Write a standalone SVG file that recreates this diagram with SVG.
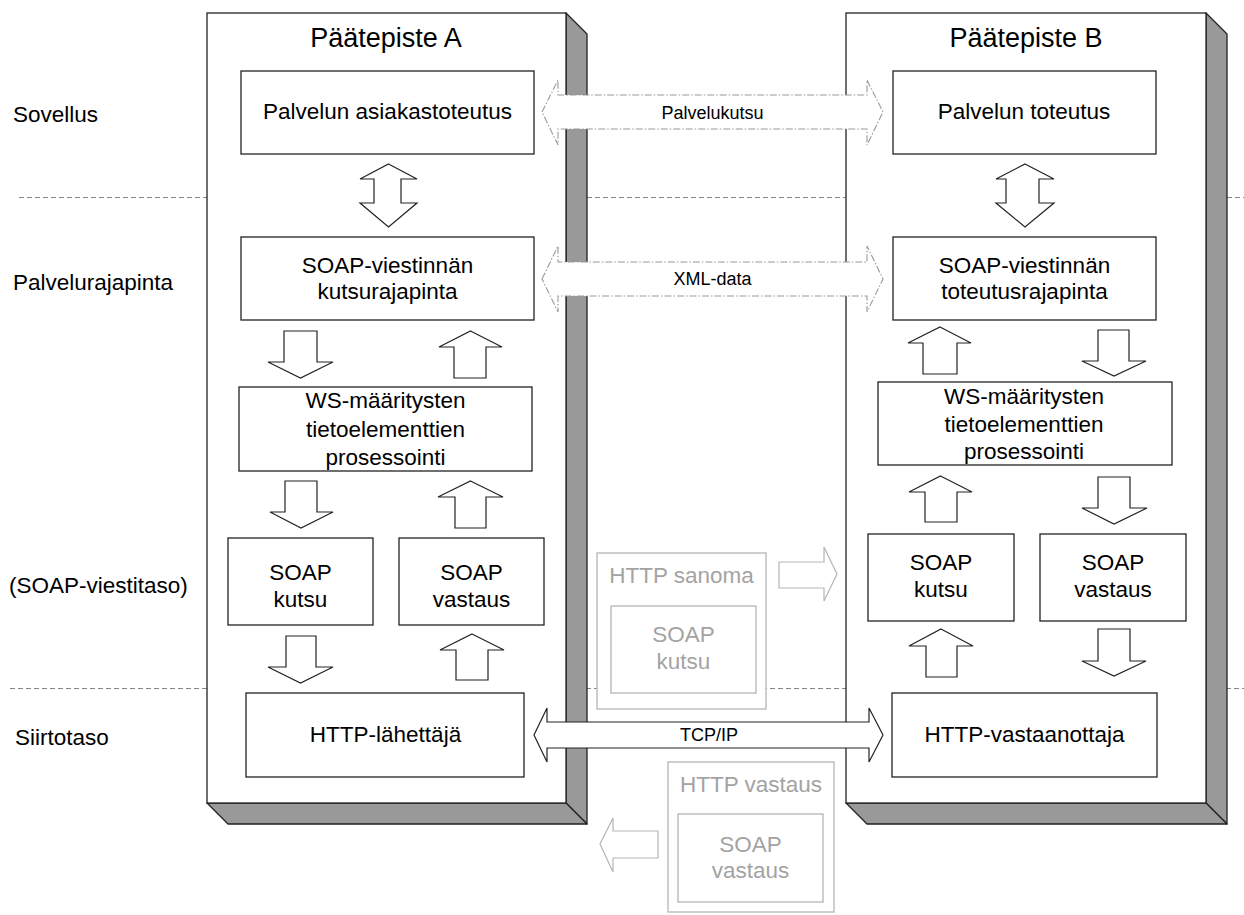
<svg xmlns="http://www.w3.org/2000/svg" width="1244" height="915" viewBox="0 0 1244 915">
<style>
text{font-family:"Liberation Sans",Arial,sans-serif;fill:#000}
.t{font-size:22.5px;text-anchor:middle}
.ttl{font-size:27px;text-anchor:middle}
.lay{font-size:22.5px}
.lbl{font-size:18px;text-anchor:middle}
.g{fill:#a3a3a3}
.box{fill:#fff;stroke:#222;stroke-width:1.3}
.shadow{fill:#999;stroke:#222;stroke-width:1.3;stroke-linejoin:round}
.gbox{fill:#fff;stroke:#b5b5b5;stroke-width:1.3}
.div{stroke:#888;stroke-width:1;stroke-dasharray:5,3;fill:none}
.blk{fill:#fff;stroke:#222;stroke-width:1.2;stroke-linejoin:miter}
.dsh{fill:#fff;stroke:#9a9a9a;stroke-width:1.1;stroke-dasharray:7,2,1.5,2}
.garr{fill:#fff;stroke:#b5b5b5;stroke-width:1.2}
</style>

<g id="dividers">
<line class="div" x1="19" y1="197.5" x2="1244" y2="197.5"/>
<line class="div" x1="10" y1="688.5" x2="1244" y2="688.5"/>
</g>

<g id="layer-labels">
<text class="lay" x="13" y="122">Sovellus</text>
<text class="lay" x="13" y="290">Palvelurajapinta</text>
<text class="lay" x="9" y="593">(SOAP-viestitaso)</text>
<text class="lay" x="15" y="745">Siirtotaso</text>
</g>

<g id="endpoint-a">
<polygon class="shadow" points="566,13 587,34 587,824 566,803"/>
<polygon class="shadow" points="207,803 566,803 587,824 228,824"/>
<rect class="box" x="207" y="13" width="359" height="790"/>
<text class="ttl" x="386" y="47">Päätepiste A</text>
</g>

<g id="endpoint-b">
<polygon class="shadow" points="1206,13 1227,34 1227,824 1206,803"/>
<polygon class="shadow" points="846,803 1206,803 1227,824 867,824"/>
<rect class="box" x="846" y="13" width="360" height="790"/>
<text class="ttl" x="1026" y="47">Päätepiste B</text>
</g>

<g id="a-client">
<rect class="box" x="241" y="71" width="293" height="83"/>
<text class="t" x="387.5" y="119">Palvelun asiakastoteutus</text>
</g>
<g id="a-soap-api">
<rect class="box" x="241" y="237" width="293" height="83"/>
<text class="t" x="387.5" y="273">SOAP-viestinnän</text>
<text class="t" x="387.5" y="299">kutsurajapinta</text>
</g>
<g id="a-ws">
<rect class="box" x="239" y="387" width="293" height="84"/>
<text class="t" x="385.5" y="408">WS-määritysten</text>
<text class="t" x="385.5" y="437">tietoelementtien</text>
<text class="t" x="385.5" y="465">prosessointi</text>
</g>
<g id="a-soap-kutsu">
<rect class="box" x="228" y="538" width="145" height="87"/>
<text class="t" x="300.5" y="580">SOAP</text>
<text class="t" x="300.5" y="607">kutsu</text>
</g>
<g id="a-soap-vastaus">
<rect class="box" x="399" y="538" width="145" height="87"/>
<text class="t" x="471.5" y="580">SOAP</text>
<text class="t" x="471.5" y="607">vastaus</text>
</g>
<g id="a-http">
<rect class="box" x="246" y="693" width="278" height="84"/>
<text class="t" x="385.5" y="742">HTTP-lähettäjä</text>
</g>

<g id="b-service">
<rect class="box" x="893" y="71" width="263" height="83"/>
<text class="t" x="1024" y="119">Palvelun toteutus</text>
</g>
<g id="b-soap-api">
<rect class="box" x="893" y="237" width="263" height="83"/>
<text class="t" x="1024.5" y="273">SOAP-viestinnän</text>
<text class="t" x="1024.5" y="299">toteutusrajapinta</text>
</g>
<g id="b-ws">
<rect class="box" x="878" y="382" width="294" height="83"/>
<text class="t" x="1024" y="404">WS-määritysten</text>
<text class="t" x="1024" y="432">tietoelementtien</text>
<text class="t" x="1024" y="459">prosessointi</text>
</g>
<g id="b-soap-kutsu">
<rect class="box" x="868" y="534" width="146" height="87"/>
<text class="t" x="941" y="570">SOAP</text>
<text class="t" x="941" y="597">kutsu</text>
</g>
<g id="b-soap-vastaus">
<rect class="box" x="1040" y="534" width="146" height="87"/>
<text class="t" x="1113" y="570">SOAP</text>
<text class="t" x="1113" y="597">vastaus</text>
</g>
<g id="b-http">
<rect class="box" x="892" y="693" width="265" height="84"/>
<text class="t" x="1024.5" y="742">HTTP-vastaanottaja</text>
</g>

<g id="http-sanoma">
<rect class="gbox" x="597" y="553" width="169" height="156"/>
<text class="t g" x="681.5" y="583">HTTP sanoma</text>
<rect class="gbox" x="611" y="606" width="145" height="87"/>
<text class="t g" x="683.5" y="642">SOAP</text>
<text class="t g" x="683.5" y="669">kutsu</text>
</g>
<g id="http-vastaus">
<rect class="gbox" x="668" y="762" width="166" height="150"/>
<text class="t g" x="751" y="792">HTTP vastaus</text>
<rect class="gbox" x="678" y="814" width="145" height="88"/>
<text class="t g" x="750.5" y="852">SOAP</text>
<text class="t g" x="750.5" y="878">vastaus</text>
</g>

<g id="connectors">
<!-- vertical double arrows -->
<polygon class="blk" points="388.5,164 417,179 401,179 401,203 417,203 388.5,227 360,203 374,203 374,179 360,179"/>
<polygon class="blk" points="1025,164 1054,179 1039,179 1039,203 1054,203 1025,227 996,203 1006,203 1006,179 996,179"/>
<!-- endpoint A flow -->
<polygon class="blk" points="284,331 317,331 317,362 333,362 300.5,378 268,362 284,362"/>
<polygon class="blk" points="470.5,331 502,347 486,347 486,378 454,378 454,347 439,347"/>
<polygon class="blk" points="285,481 317,481 317,512 333,512 301,528 270,512 285,512"/>
<polygon class="blk" points="470.5,481 503,497 486,497 486,528 455,528 455,497 438,497"/>
<polygon class="blk" points="286,636 316,636 316,667 333,667 300.5,683 268,667 286,667"/>
<polygon class="blk" points="472,634 504,650 488,650 488,680 456,680 456,650 440,650"/>
<!-- endpoint B flow -->
<polygon class="blk" points="940,327 971,343 957,343 957,374 923,374 923,343 908,343"/>
<polygon class="blk" points="1098,330 1129,330 1129,361 1146,361 1114,376 1082,361 1098,361"/>
<polygon class="blk" points="940.5,476 972,492 957,492 957,522 925,522 925,492 909,492"/>
<polygon class="blk" points="1098,477 1130,477 1130,508 1147,508 1114,524 1082,508 1098,508"/>
<polygon class="blk" points="941,629 973,646 957,646 957,677 926,677 926,646 909,646"/>
<polygon class="blk" points="1098,629 1130,629 1130,661 1146,661 1114,676 1082,661 1098,661"/>
<!-- dashed logical arrows -->
<polygon class="dsh" points="542,112 558,80 558,95 867,95 867,80 883,112 867,145 867,129 558,129 558,145"/>
<text class="lbl" x="712.5" y="119">Palvelukutsu</text>
<polygon class="dsh" points="542,279 558,246 558,262 867,262 867,246 883,279 867,312 867,296 558,296 558,312"/>
<text class="lbl" x="712.5" y="285">XML-data</text>
<!-- TCP/IP -->
<polygon class="blk" points="534,735 547,708 547,722 869,722 869,708 883,735 869,762 869,748 547,748 547,762"/>
<text class="lbl" x="709" y="741">TCP/IP</text>
<!-- gray message arrows -->
<polygon class="garr" points="779,562 824,562 824,547 837,574 824,601 824,588 779,588"/>
<polygon class="garr" points="658,831 613,831 613,818 600,844 613,872 613,858 658,858"/>
</g>
</svg>
